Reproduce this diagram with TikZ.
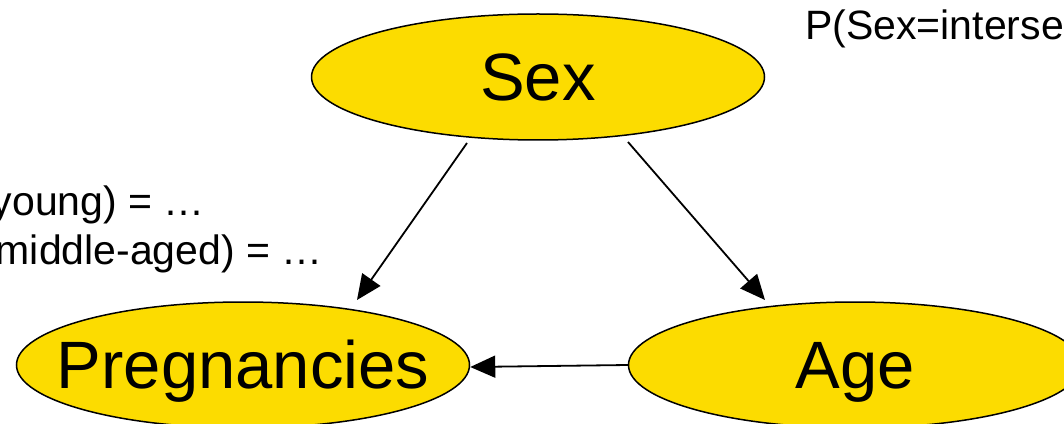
\documentclass[tikz,border=0pt]{standalone}
\usepackage{fontspec}
\setmainfont{Liberation Sans}
\usetikzlibrary{shapes.geometric,arrows.meta,calc}
\definecolor{nodeyellow}{HTML}{FCDC00}
\begin{document}
\begin{tikzpicture}[x=1pt,y=1pt,
  var/.style={ellipse,draw=black,line width=1.5pt,fill=nodeyellow,
    minimum width=453pt,minimum height=126pt,inner sep=0pt,
    font=\fontsize{67}{71}\selectfont,text height=47pt,text depth=0pt},
  arr/.style={line width=1.8pt,-{Triangle[length=25pt,width=22pt]}},
  lbl/.style={font=\fontsize{41}{49}\selectfont,inner sep=0pt}]
\useasboundingbox (0,0) rectangle (1064,423);
\clip (0,0) rectangle (1064,423);
\fill[white] (0,0) rectangle (1064,423);
\node[var] (sex) at (538,346) {\makebox[0pt]{Sex}};
\node[var] (preg) at (243,58) {\makebox[0pt]{Pregnancies}};
\node[var] (age) at (855,58) {\makebox[0pt]{Age}};
\draw[arr] ($(sex.center)+(-71,-66)$) -- ($(preg.center)+(114,65)$);
\draw[arr] ($(sex.center)+(90,-65)$) -- ($(age.center)+(-90,65)$);
\draw[arr] (age.west) -- ($(preg.east)+(0,-2)$);
\node[lbl,anchor=base west] (ptop) at (805,383) {P(Sex=interse};
\node[lbl,anchor=base east] (l1) at (205,207) {young) = …};
\node[lbl,anchor=base east] (l2) at (323,158) {middle-aged) = …};
\end{tikzpicture}
\end{document}
